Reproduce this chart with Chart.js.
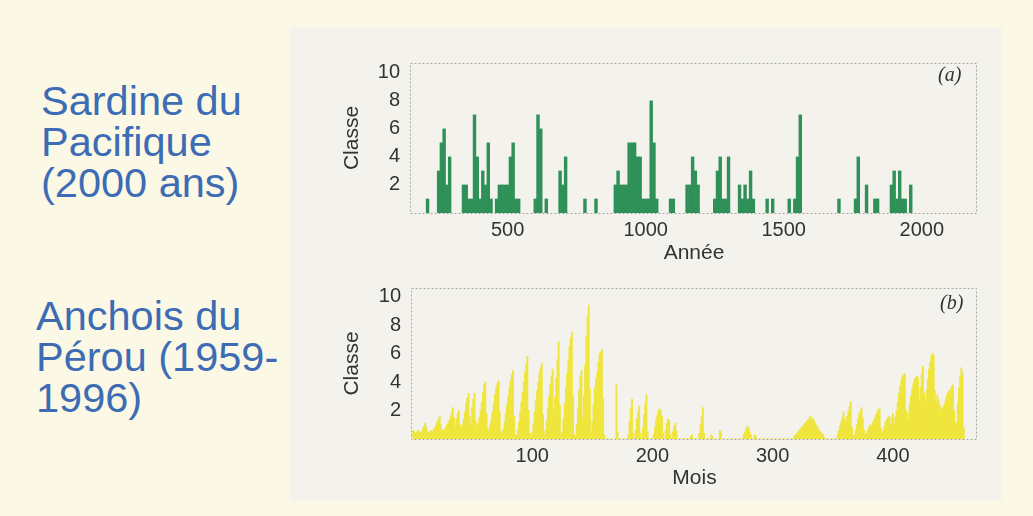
<!DOCTYPE html>
<html>
<head>
<meta charset="utf-8">
<script src="https://cdn.jsdelivr.net/npm/chart.js@4.4.1/dist/chart.umd.min.js"></script>
<style>
  body {
    margin: 0;
    width: 1033px;
    height: 516px;
    background: #fbf9e6;
    position: relative;
    overflow: hidden;
    font-family: "Liberation Sans", Arial, sans-serif;
  }
  .panel { position: absolute; left: 290px; top: 28px; width: 712px; height: 472px; background: #f3f2ed; }
  .label { position: absolute; color: #3d6cb4; font-size: 41.5px; line-height: 41px; }
  .tag { position: absolute; font-family: "Liberation Serif", serif; font-style: italic; font-size: 20px; color: #333; }
  canvas { position: absolute; left: 330px; }
</style>
</head>
<body>
<div class="panel"></div>
<div class="label" style="left:41px; top:80px">Sardine du<br>Pacifique<br>(2000 ans)</div>
<div class="label" style="left:36px; top:295px">Anchois du<br>Pérou (1959-<br>1996)</div>
<canvas id="sardine" width="660" height="230" style="top:40px"></canvas>
<canvas id="anchois" width="660" height="230" style="top:265px"></canvas>
<div class="tag" style="left:938px; top:63px">(a)</div>
<div class="tag" style="left:940px; top:291px">(b)</div>
<script>
// (a) sardine : classe par décennie (années sans valeur = 0)
const sardineYears = [210, 250, 260, 270, 280, 290, 340, 350, 360, 370, 380, 390, 400, 410, 420, 430, 440,
  460, 470, 480, 490, 500, 510, 520, 530, 540, 600, 610, 620, 640, 690, 700, 710, 780, 820,
  890, 900, 910, 920, 930, 940, 950, 960, 970, 980, 990, 1000, 1010, 1020, 1030, 1040, 1090, 1100,
  1150, 1160, 1170, 1180, 1190, 1250, 1260, 1270, 1280, 1290, 1300, 1340, 1350, 1360, 1370, 1380, 1390,
  1440, 1460, 1520, 1540, 1550, 1560, 1700, 1760, 1770, 1800, 1830, 1840,
  1890, 1900, 1910, 1920, 1930, 1940, 1960];
const sardineClass = [1, 3, 5, 6, 2, 4, 2, 2, 1, 1, 7, 4, 1, 3, 2, 5, 1,
  1, 2, 2, 2, 2, 4, 5, 1, 1, 1, 7, 6, 1, 3, 2, 4, 1, 1,
  2, 3, 2, 2, 2, 5, 5, 5, 4, 4, 1, 1, 1, 8, 5, 1, 1, 1,
  2, 2, 4, 3, 2, 1, 3, 4, 1, 1, 4, 2, 1, 2, 1, 3, 1,
  1, 1, 1, 1, 4, 7, 1, 1, 4, 2, 1, 1,
  2, 3, 1, 3, 1, 1, 2];

// (b) anchois : classe mensuelle, une ligne par année à partir de 1959
const anchoisClass = [
  0.6, 0.5, 0.4, 0.5, 0.6, 0.5, 0.4, 0.5, 0.7, 0.9, 1.1, 0.8,
  0.5, 0.4, 0.5, 0.6, 0.5, 0.7, 0.8, 1.0, 1.2, 1.4, 1.6, 1.0,
  0.6, 0.5, 0.7, 0.8, 1.0, 1.1, 1.3, 1.6, 1.9, 2.2, 1.5, 0.9,
  1.4, 1.8, 2.0, 1.0, 0.8, 1.0, 1.4, 1.9, 2.5, 2.9, 3.2, 1.6,
  1.0, 2.2, 2.8, 3.2, 1.3, 0.9, 1.1, 1.5, 2.0, 2.6, 3.3, 3.8,
  4.0, 1.8, 0.7, 0.6, 1.0, 1.4, 1.9, 2.5, 3.1, 3.6, 3.9, 4.1,
  1.9, 0.5, 0.4, 0.7, 1.2, 1.8, 2.4, 3.0, 3.6, 4.1, 4.5, 4.8,
  1.6, 0.3, 0.2, 0.6, 1.2, 1.9, 2.6, 3.3, 4.0, 4.7, 5.3, 5.8,
  2.0, 0.4, 0.2, 0.5, 1.1, 1.9, 2.7, 3.4, 4.0, 4.6, 5.0, 5.3,
  1.7, 0.3, 0.6, 1.3, 2.2, 3.0, 3.8, 4.4, 4.9, 2.0, 2.9, 4.3,
  5.6, 6.8, 2.4, 0.3, 0.5, 1.4, 2.5, 3.6, 4.6, 5.6, 6.5, 7.1,
  7.5, 3.0, 0.3, 0.2, 1.0, 2.2, 3.4, 4.4, 4.8, 1.5, 3.0, 5.2,
  7.2, 8.6, 9.4, 3.5, 0.4, 1.2, 2.4, 3.6, 4.2, 4.6, 5.4, 6.0,
  6.1, 6.3, 2.8, 0.3, 0, 0, 0, 0, 0, 0, 0, 0,
  0, 3.8, 0.5, 0, 0, 0, 0, 0, 0, 0, 0, 0.3,
  1.2, 2.2, 2.8, 0.4, 0, 0.6, 1.4, 1.9, 2.3, 0.4, 0, 0.8,
  1.7, 2.5, 3.1, 0.5, 0, 0, 0, 0, 0.3, 0.8, 1.3, 1.7,
  2.0, 2.1, 2.0, 1.6, 0.4, 0, 0.6, 1.1, 1.4, 1.3, 0.3, 0,
  0.5, 0.9, 1.1, 0.6, 0, 0, 0, 0, 0, 0, 0, 0,
  0, 0, 0, 0.2, 0.3, 0, 0, 0, 0, 0, 0.4, 1.0,
  1.6, 2.2, 0.4, 0, 0, 0, 0, 0, 0.3, 0.2, 0, 0,
  0, 0, 0, 0.6, 0.5, 0, 0, 0, 0, 0, 0, 0,
  0, 0, 0, 0, 0, 0, 0, 0, 0, 0, 0, 0.3,
  0.5, 0.7, 0.9, 0.8, 0.5, 0.3, 0, 0, 0.3, 0.2, 0, 0,
  0, 0, 0, 0, 0, 0, 0, 0, 0, 0, 0, 0,
  0, 0, 0, 0, 0, 0, 0, 0, 0, 0, 0, 0,
  0, 0, 0, 0, 0, 0.2, 0.3, 0.4, 0.5, 0.6, 0.7, 0.8,
  0.9, 1.0, 1.1, 1.2, 1.3, 1.4, 1.6, 1.3, 1.5, 1.4, 1.2, 1.0,
  0.9, 0.7, 0.6, 0.5, 0.4, 0.3, 0.1, 0, 0, 0, 0, 0,
  0, 0, 0, 0, 0, 0.3, 0.6, 0.9, 1.2, 1.5, 1.9, 1.4,
  1.2, 1.6, 2.0, 2.3, 2.6, 0.8, 0.3, 0.2, 0.6, 1.0, 1.4, 1.8,
  2.0, 2.2, 1.5, 0.6, 0.3, 0.4, 0.6, 0.8, 1.0, 0.9, 1.1, 1.3,
  1.5, 1.7, 1.9, 2.1, 2.1, 0.8, 0.4, 0.6, 0.9, 1.2, 1.4, 1.5,
  1.6, 1.0, 1.5, 1.8, 1.0, 1.5, 2.0, 2.6, 3.2, 3.7, 4.1, 4.4,
  4.5, 4.6, 2.0, 1.3, 1.8, 2.4, 3.0, 3.5, 3.9, 4.2, 4.3, 4.4,
  4.3, 2.8, 3.6, 4.6, 5.1, 3.2, 2.6, 3.4, 4.2, 4.9, 5.4, 5.8,
  6.0, 5.9, 3.4, 2.6, 3.1, 2.8, 2.4, 2.0, 2.2, 2.2, 2.5, 2.8,
  3.1, 3.3, 3.4, 3.5, 3.7, 3.8, 2.0, 1.0, 1.2, 2.5, 3.6, 4.4,
  5.0, 4.6, 0.8
];

const yTicks = [2, 4, 6, 8, 10];
const sardineTicks = [500, 1000, 1500, 2000];
const anchoisTicks = [100, 200, 300, 400];

// cadre pointillé autour de la zone de tracé
const framePlugin = {
  id: "frame",
  beforeDatasetsDraw(chart) {
    const { ctx, chartArea: a } = chart;
    ctx.save();
    ctx.strokeStyle = "#a8a8a2";
    ctx.lineWidth = 1;
    ctx.setLineDash([2, 2]);
    ctx.strokeRect(Math.round(a.left) - 0.5, Math.round(a.top) + 0.5, a.right - a.left, a.bottom - a.top);
    ctx.restore();
  },
};

function makeChart(id, points, color, xMin, xMax, xTicks, xTitle, yMax, axisW, padTop, xAxisH) {
  return new Chart(document.getElementById(id), {
    type: "bar",
    data: {
      datasets: [
        {
          data: points,
          backgroundColor: color,
          borderWidth: 0,
          barPercentage: 1,
          categoryPercentage: 1,
        },
      ],
    },
    options: {
      responsive: false,
      animation: false,
      layout: { padding: { top: padTop, right: 13, left: 0, bottom: 0 } },
      plugins: { legend: { display: false }, tooltip: { enabled: false } },
      scales: {
        x: {
          type: "linear",
          offset: false,
          min: xMin,
          max: xMax,
          grid: { display: false, drawTicks: false },
          border: { display: false },
          afterBuildTicks: (s) => {
            s.ticks = xTicks.map((v) => ({ value: v }));
          },
          afterFit: (s) => {
            s.height = xAxisH;
          },
          ticks: {
            color: "#333",
            font: { size: 20 },
            padding: 5,
            maxRotation: 0,
            autoSkip: false,
            callback: (v) => String(v),
          },
          title: {
            display: true,
            text: xTitle,
            color: "#333",
            font: { size: 21 },
            padding: { top: 0, bottom: 4 },
          },
        },
        y: {
          min: 0,
          max: yMax,
          grid: { display: false, drawTicks: false },
          border: { display: false },
          afterBuildTicks: (s) => {
            s.ticks = yTicks.map((v) => ({ value: v }));
          },
          afterFit: (s) => {
            s.width = axisW;
          },
          ticks: { color: "#333", font: { size: 20 }, padding: 11 },
          title: {
            display: true,
            text: "Classe",
            color: "#333",
            font: { size: 21 },
            padding: { top: 10, bottom: 0 },
          },
        },
      },
    },
    plugins: [framePlugin],
  });
}

let sardinePoints = sardineYears.map((yr, i) => ({ x: yr, y: sardineClass[i] }));
let anchoisPoints = anchoisClass.map((v, i) => ({ x: i + 1, y: v }));

makeChart("sardine", sardinePoints, "#2f9058", 150, 2200, sardineTicks, "Année", 10.7, 81, 18, 57);
makeChart("anchois", anchoisPoints, "#efe53c", 0, 470, anchoisTicks, "Mois", 10.6, 82, 20, 56);
</script>
</body>
</html>
